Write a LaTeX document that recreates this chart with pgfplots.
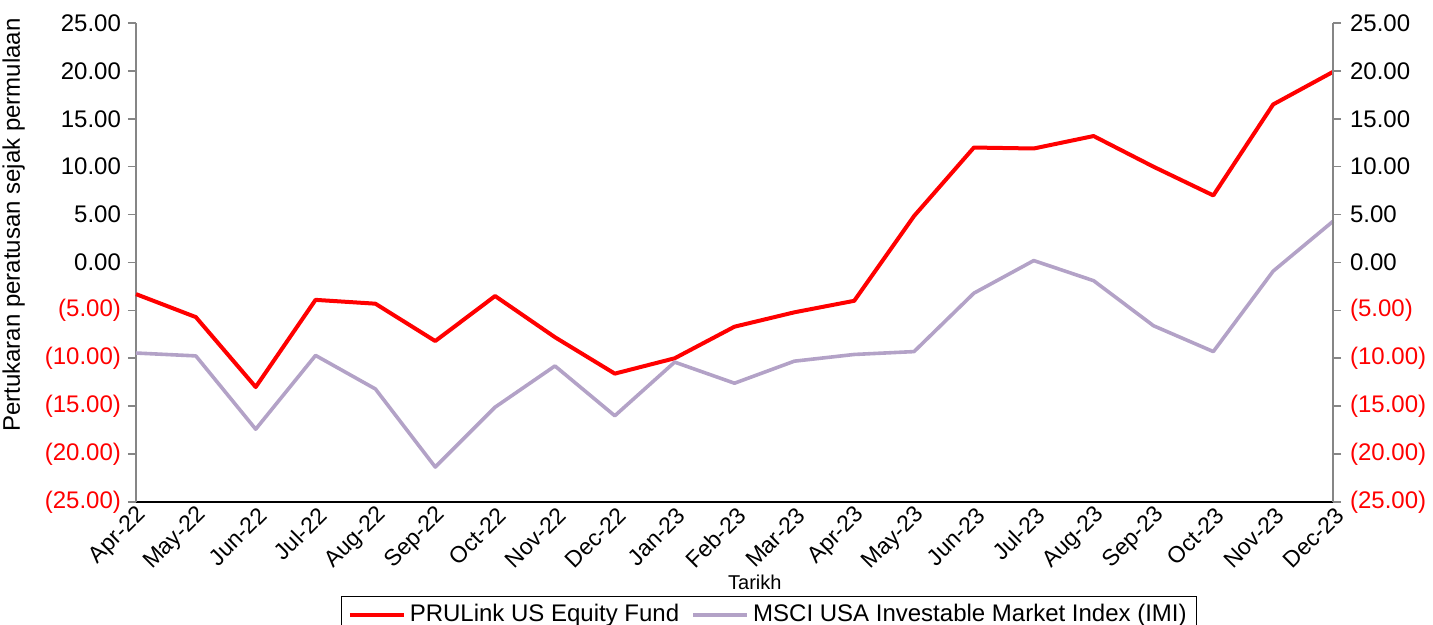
\documentclass[border=0pt]{standalone}
\usepackage{pgfplots}
\pgfplotsset{compat=1.18}
\usepackage{fontspec}
\setmainfont{Liberation Sans}
\definecolor{msci}{RGB}{179,162,199}
\definecolor{axgray}{RGB}{134,134,134}
\begin{document}
\begin{tikzpicture}
\path[use as bounding box] (-68pt,-61.5pt) rectangle (648.5pt,251pt);
\begin{axis}[
  scale only axis, width=598.5pt, height=239.5pt,
  xmin=0, xmax=20, ymin=-25, ymax=25,
  axis x line*=bottom, axis y line*=left,
  x axis line style={black, line width=0.8pt, -},
  y axis line style={axgray, line width=0.8pt, -},
  xtick={0,...,20}, xtick style={draw=none},
  xticklabels={Apr-22,May-22,Jun-22,Jul-22,Aug-22,Sep-22,Oct-22,Nov-22,Dec-22,Jan-23,Feb-23,Mar-23,Apr-23,May-23,Jun-23,Jul-23,Aug-23,Sep-23,Oct-23,Nov-23,Dec-23},
  xticklabel style={font=\fontsize{11.5}{13}\selectfont, rotate=45, anchor=east, inner sep=1pt, xshift=3pt, yshift=-3pt},
  ytick={-25,-20,...,25},
  yticklabels={{\color{red}(25.00)},{\color{red}(20.00)},{\color{red}(15.00)},{\color{red}(10.00)},{\color{red}(5.00)},0.00,5.00,10.00,15.00,20.00,25.00},
  yticklabel style={font=\fontsize{12}{14}\selectfont},
  ytick style={axgray, line width=0.8pt},
  tick align=outside, major tick length=4pt,
  ylabel={Pertukaran peratusan sejak permulaan},
  ylabel style={font=\fontsize{12}{14}\selectfont, at={(rel axis cs:0,0.578)}, anchor=south, yshift=52pt},
  xlabel={Tarikh},
  xlabel style={font=\fontsize{10}{12}\selectfont, at={(rel axis cs:0.517,0)}, anchor=north, yshift=-33pt},
  legend columns=2,
  legend style={at={(0.529,0)}, anchor=north, yshift=-47pt, draw=black, font=\fontsize{12}{14}\selectfont, inner ysep=2pt, /tikz/every even column/.append style={column sep=4pt}},
  legend image code/.code={\draw[#1, line width=2pt] (0cm,0cm) -- (27pt,0cm);},
  clip=false,
]
\addplot[red, line width=2pt, line join=round] coordinates {
(0,-3.3) (1,-5.7) (2,-13.0) (3,-3.9) (4,-4.3) (5,-8.2) (6,-3.5) (7,-7.8) (8,-11.6) (9,-10.0) (10,-6.7) (11,-5.2) (12,-4.0) (13,4.85) (14,12.0) (15,11.9) (16,13.2) (17,10.0) (18,7.0) (19,16.5) (20,19.9)};
\addlegendentry{PRULink US Equity Fund}
\addplot[msci, line width=1.8pt, line join=round] coordinates {
(0,-9.45) (1,-9.75) (2,-17.4) (3,-9.7) (4,-13.2) (5,-21.35) (6,-15.1) (7,-10.8) (8,-16.0) (9,-10.4) (10,-12.6) (11,-10.3) (12,-9.6) (13,-9.3) (14,-3.2) (15,0.2) (16,-1.9) (17,-6.6) (18,-9.3) (19,-0.9) (20,4.3)};
\addlegendentry{MSCI USA Investable Market Index (IMI)}
\end{axis}
\begin{axis}[
  scale only axis, width=598.5pt, height=239.5pt,
  xmin=0, xmax=20, ymin=-25, ymax=25,
  axis x line=none, axis y line*=right,
  y axis line style={axgray, line width=0.8pt, -},
  ytick={-25,-20,...,25},
  yticklabels={{\color{red}(25.00)},{\color{red}(20.00)},{\color{red}(15.00)},{\color{red}(10.00)},{\color{red}(5.00)},0.00,5.00,10.00,15.00,20.00,25.00},
  yticklabel style={font=\fontsize{12}{14}\selectfont, xshift=1pt},
  ytick style={axgray, line width=0.8pt},
  tick align=outside, major tick length=4pt,
]
\end{axis}
\end{tikzpicture}
\end{document}
